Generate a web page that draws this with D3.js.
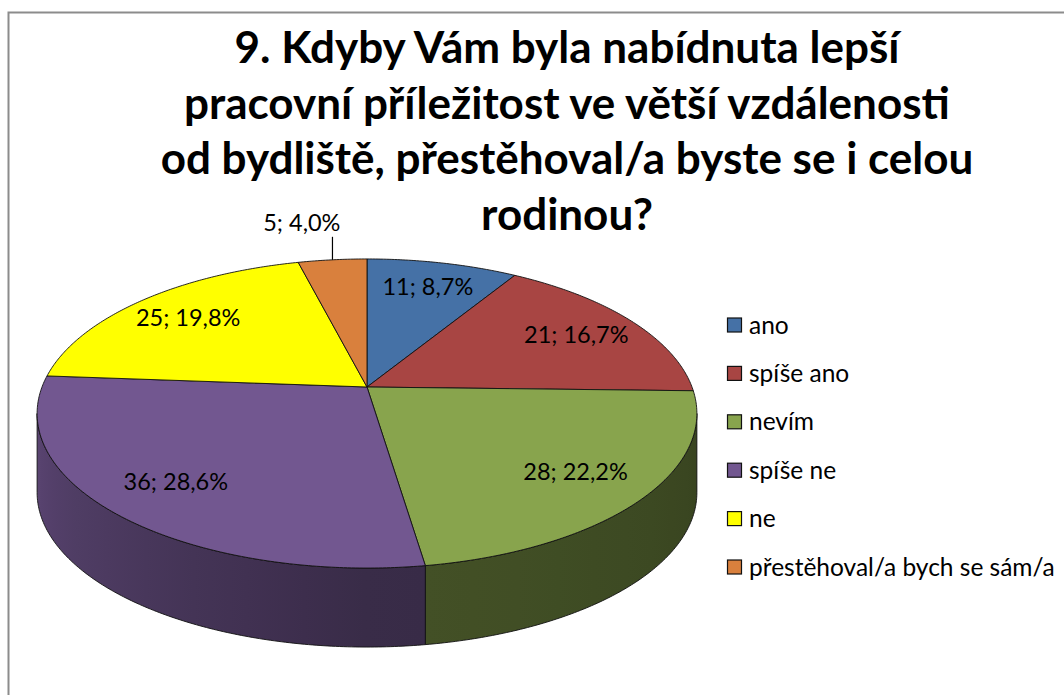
<meta charset="utf-8">
<title>9. Kdyby Vám byla nabídnuta lepší pracovní příležitost</title>
<script src="https://d3js.org/d3.v7.min.js"></script>
<style>
  body { margin: 0; background: #fff; }
  text { font-family: Lato, "Open Sans", sans-serif; fill: #000; }
</style>
<body>
<svg width="1064" height="695"></svg>
<script>

  // data
  const
    categories = ['ano', 'spíše ano', 'nevím', 'spíše ne', 'ne', 'přestěhoval/a bych se sám/a'],
    counts = [11, 21, 28, 36, 25, 5],
    colors = ['#4571A6', '#A84543', '#88A44D', '#725790', '#FFFF00', '#D9803D'],
    titleLines = [
      '9. Kdyby Vám byla nabídnuta lepší',
      'pracovní příležitost ve větší vzdálenosti',
      'od bydliště, přestěhoval/a byste se i celou',
      'rodinou?'
    ]

  const svg = d3.select('svg')
  const defs = svg.append('defs')

  // frame
  svg.append('rect')
    .attr('x', 8.5).attr('y', 12.5)
    .attr('width', 1100).attr('height', 800)
    .attr('fill', 'none')
    .attr('stroke', '#8c8c8c')
    .attr('stroke-width', 2)

  // title
  svg.append('g')
    .selectAll('text')
    .data(titleLines)
    .join('text')
    .attr('x', 567)
    .attr('y', (d, i) => 63 + i * 55.5)
    .attr('text-anchor', 'middle')
    .attr('font-size', 44)
    .attr('font-weight', 'bold')
    .text(d => d)

  // --- 3d pie geometry (perspective tilted disc) ---
  const
    cx = 367, cy = 387,   // apex of the slices
    A = 325, B = 150,     // radii before perspective
    k = 0.1715,           // perspective strength
    depth = 79            // thickness on screen

  const proj = (theta, r = 1, dy = 0) => {
    const X = r * Math.sin(theta), Z = -r * Math.cos(theta), w = 1 - k * Z
    return [cx + A * X / w, cy + B * Z / w + dy]
  }

  const rim = (a0, a1, dy = 0) => {
    const n = Math.max(2, Math.ceil((a1 - a0) / 0.01))
    return d3.range(n + 1).map(i => proj(a0 + (a1 - a0) * i / n, 1, dy))
  }

  const total = d3.sum(counts)
  const pct = d3.format('.1f')
  const arcs = d3.pie().sort(null).value(d => d)(counts)
    .map((a, i) => ({
      ...a,
      name: categories[i],
      color: colors[i],
      label: `${a.data}; ${pct(a.data / total * 100).replace('.', ',')}%`
    }))

  // lighting of the side wall, by angle (deg) around the pie
  const shade = d3.scaleLinear().domain([90, 180, 270]).range([0.40, 0.50, 0.83]).clamp(true)
  const dim = (c, f) => { const r = d3.rgb(c); return d3.rgb(r.r * f, r.g * f, r.b * f).formatHex() }

  const visLo = Math.acos(-k), visHi = 2 * Math.PI - Math.acos(-k)
  const line = d3.line()

  // side walls
  const sides = svg.append('g')
  arcs.forEach((a, i) => {
    const s = Math.max(a.startAngle, visLo), e = Math.min(a.endAngle, visHi)
    if (e <= s) return
    const top = rim(s, e), bottom = rim(s, e, depth).reverse()
    const xL = proj(e)[0], xR = proj(s)[0]
    const grad = defs.append('linearGradient')
      .attr('id', 'side' + i)
      .attr('gradientUnits', 'userSpaceOnUse')
      .attr('x1', xL).attr('x2', xR).attr('y1', 0).attr('y2', 0)
    d3.range(11).forEach(j => {
      const t = e - (e - s) * j / 10
      grad.append('stop')
        .attr('offset', (proj(t)[0] - xL) / (xR - xL))
        .attr('stop-color', dim(a.color, shade(t * 180 / Math.PI)))
    })
    sides.append('path')
      .attr('d', line(top.concat(bottom)) + 'Z')
      .attr('fill', `url(#side${i})`)
      .attr('stroke', '#111')
      .attr('stroke-width', 0.9)
  })

  // top faces
  svg.append('g')
    .selectAll('path')
    .data(arcs)
    .join('path')
    .attr('d', a => line([[cx, cy], ...rim(a.startAngle, a.endAngle)]) + 'Z')
    .attr('fill', a => a.color)
    .attr('stroke', '#111')
    .attr('stroke-width', 0.9)
    .attr('stroke-linejoin', 'round')

  // data labels
  const labels = svg.append('g').attr('font-size', 23.5)
  arcs.forEach(a => {
    const mid = (a.startAngle + a.endAngle) / 2
    if (a.data / total < 0.05) {
      const [x, y] = proj(mid)
      labels.append('line')
        .attr('x1', x).attr('x2', x)
        .attr('y1', y).attr('y2', y - 23)
        .attr('stroke', '#000').attr('stroke-width', 1.2)
      labels.append('text')
        .attr('x', x + 8).attr('y', y - 29)
        .attr('text-anchor', 'end')
        .text(a.label)
    } else {
      const [x, y] = proj(mid, 0.78)
      labels.append('text')
        .attr('x', x).attr('y', y)
        .attr('dy', '0.35em')
        .attr('text-anchor', 'middle')
        .text(a.label)
    }
  })

  // legend
  const legend = svg.append('g')
    .attr('transform', 'translate(727,325)')
    .selectAll('g')
    .data(arcs)
    .join('g')
    .attr('transform', (d, i) => `translate(0,${i * 48.4})`)

  legend.append('rect')
    .attr('x', 0.5).attr('y', -7)
    .attr('width', 14).attr('height', 14)
    .attr('fill', d => d.color)
    .attr('stroke', '#111')
    .attr('stroke-width', 1.2)

  legend.append('text')
    .attr('x', 22).attr('y', 0)
    .attr('dy', '0.35em')
    .attr('font-size', 24.5)
    .text(d => d.name)

</script>
</body>
